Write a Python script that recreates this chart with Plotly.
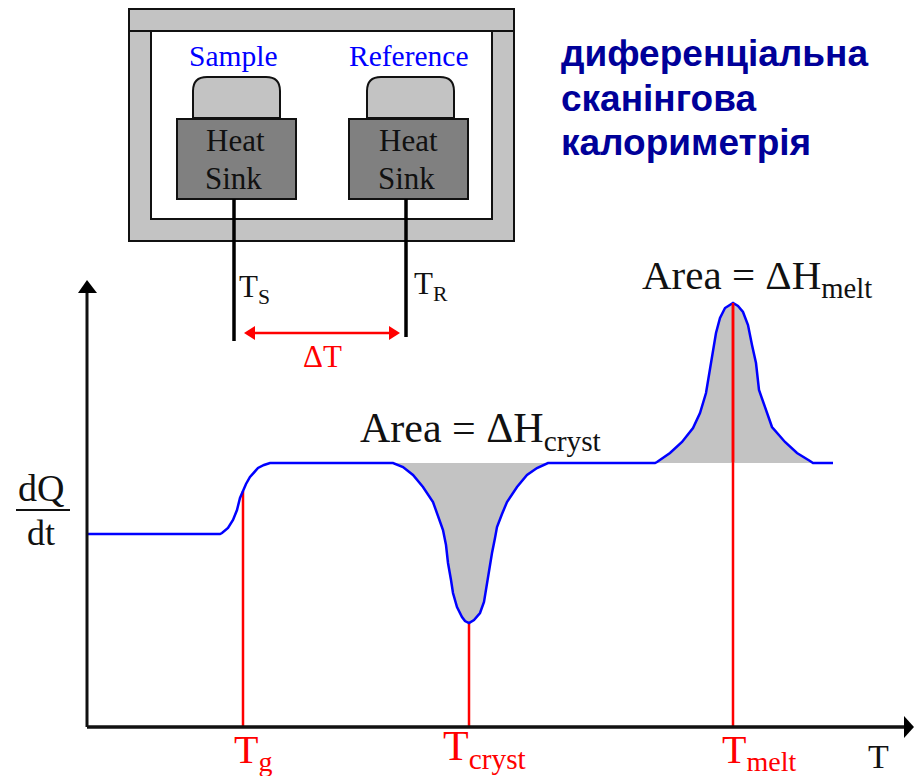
import plotly.graph_objects as go

# DSC curve (horizontal position, signal height)
curve_x = [87, 220, 222, 228, 233, 237, 240, 243, 246, 250, 254, 258, 264, 270, 393,
           403, 413, 423, 433, 438, 443, 446, 448, 451, 453, 457, 462, 465, 469,
           474, 480, 484, 487, 490, 492, 495, 497, 502, 507, 517, 527, 537, 548, 655,
           657, 670, 682, 693, 700, 706, 709, 712, 716, 720, 725, 733,
           738, 743, 748, 752, 756, 759, 765, 772, 785, 797, 810, 813, 833]
curve_y = [534, 534, 533, 528, 520, 510, 498, 491, 484, 477, 472, 468, 465, 463, 463,
           467, 475, 487, 502, 515, 530, 545, 563, 580, 593, 607, 617, 621, 623,
           620, 613, 602, 583, 565, 553, 538, 527, 514, 502, 487, 475, 468, 463, 463,
           462, 453, 442, 428, 413, 393, 375, 353, 333, 318, 308, 303,
           306, 312, 325, 345, 363, 390, 407, 427, 442, 453, 461, 463, 463]
baseline = 463
axis_x0, axis_y0 = 87, 727
axis_x1, axis_y1 = 905, 292
transitions = {"g": (243, 491), "cryst": (469, 623), "melt": (733, 303)}
cryst_span = (393, 548)
melt_span = (655, 813)

heading = ["диференціальна", "сканінгова", "калориметрія"]

RED, BLUE, GRAY, DARK = "#ff0000", "#0000ff", "#c3c3c3", "#808080"
SERIF = "Liberation Serif"


def rect(x0, y0, x1, y1, fill, lw=2):
    return dict(type="rect", x0=x0, y0=y0, x1=x1, y1=y1, fillcolor=fill,
                line=dict(color="#111111", width=lw), layer="below")


def seg(x0, y0, x1, y1, color="black", w=3, layer="above"):
    return dict(type="line", x0=x0, y0=y0, x1=x1, y1=y1,
                line=dict(color=color, width=w), layer=layer)


def tri(pts, color):
    p = "M" + " L".join(f"{a},{b}" for a, b in pts) + " Z"
    return dict(type="path", path=p, fillcolor=color, line=dict(color=color, width=0), layer="above")


def pan(x0, x1, y0=77, y1=118, r=14):
    p = (f"M{x0},{y1} L{x0},{y0+r} Q{x0},{y0} {x0+r},{y0} L{x1-r},{y0} "
         f"Q{x1},{y0} {x1},{y0+r} L{x1},{y1} Z")
    return dict(type="path", path=p, fillcolor=GRAY, line=dict(color="#111111", width=2), layer="below")


def label(x, y, text, size=30, color="#111111", family=SERIF, anchor="center", bold=False):
    return dict(x=x, y=y, text=f"<b>{text}</b>" if bold else text, showarrow=False, xanchor=anchor, yanchor="middle",
                font=dict(size=size, color=color, family=family))


fig = go.Figure()


def fill_part(lo, hi):
    pts = [(x, y) for x, y in zip(curve_x, curve_y) if lo <= x <= hi]
    fig.add_trace(go.Scatter(x=[p[0] for p in pts], y=[p[1] for p in pts], mode="lines",
                             fill="toself", fillcolor=GRAY, line=dict(width=0),
                             hoverinfo="skip", showlegend=False))


fill_part(*cryst_span)
fill_part(*melt_span)
for x, y in transitions.values():
    fig.add_trace(go.Scatter(x=[x, x], y=[axis_y0, y], mode="lines",
                             line=dict(color=RED, width=2.5), showlegend=False))
fig.add_trace(go.Scatter(x=curve_x, y=curve_y, mode="lines",
                         line=dict(color=BLUE, width=2.5), showlegend=False))
mx, my = transitions["melt"]
fig.add_trace(go.Scatter(x=[mx, mx], y=[baseline - 1, my], mode="lines",
                         line=dict(color=RED, width=2.5), showlegend=False))

shapes = [
    # furnace
    rect(129, 9, 514, 241, GRAY),
    rect(129, 9, 514, 31, GRAY),
    rect(151, 31, 492, 219, "white"),
    pan(193, 280), pan(367, 454),
    rect(177, 119, 296, 199, DARK),
    rect(349, 119, 468, 199, DARK),
    # thermocouple wires
    seg(234, 199, 234, 341, "black", 3.5),
    seg(406, 199, 406, 337, "black", 3.5),
    # delta T arrow
    seg(252, 333, 392, 333, RED, 2.5),
    tri([(244, 333), (255, 326), (255, 340)], RED),
    tri([(400, 333), (389, 326), (389, 340)], RED),
    # axes
    seg(axis_x0, axis_y0, axis_x0, axis_y1, "#111111", 3),
    seg(axis_x0, axis_y0, axis_x1, axis_y0, "#111111", 3.5),
    tri([(axis_x0, 280), (78, 293), (97, 293)], "black"),
    tri([(914, axis_y0), (904, 716), (904, 738)], "black"),
    # dQ/dt fraction bar
    seg(16, 510, 70, 510, "#111111", 2),
]

annotations = [
    label(233, 56, "Sample", 29.5, BLUE),
    label(409, 56, "Reference", 29.5, BLUE),
    label(235, 140, "Heat", 31), label(233, 178, "Sink", 31),
    label(408, 140, "Heat", 31), label(406, 178, "Sink", 31),
    label(254, 289, "T<sub>S</sub>", 31),
    label(431, 286, "T<sub>R</sub>", 31),
    label(322, 356, "ΔT", 31, RED),
    label(757, 278, "Area = ΔH<sub>melt</sub>", 41),
    label(480, 431, "Area = ΔH<sub>cryst</sub>", 42),
    label(41, 488, "dQ", 38), label(41, 533, "dt", 36),
    label(253, 752, "T<sub>g</sub>", 40, RED),
    label(484, 749, "T<sub>cryst</sub>", 42, RED),
    label(759, 752, "T<sub>melt</sub>", 40, RED),
    label(878, 756, "T", 34),
]
for y, line in zip([53, 98, 142], heading):
    annotations.append(label(559, y, line, 37, "#000099", "Liberation Sans", "left", True))

fig.update_layout(
    width=918, height=776, margin=dict(l=0, r=0, t=0, b=0),
    paper_bgcolor="white", plot_bgcolor="white", showlegend=False,
    xaxis=dict(range=[0, 918], visible=False, fixedrange=True),
    yaxis=dict(range=[776, 0], visible=False, fixedrange=True),
    shapes=shapes, annotations=annotations,
)
fig.write_html("out.html", config={"displayModeBar": False}, default_width="918px", default_height="776px",
               post_script="document.body.style.margin='0';document.documentElement.style.overflow='hidden';")
